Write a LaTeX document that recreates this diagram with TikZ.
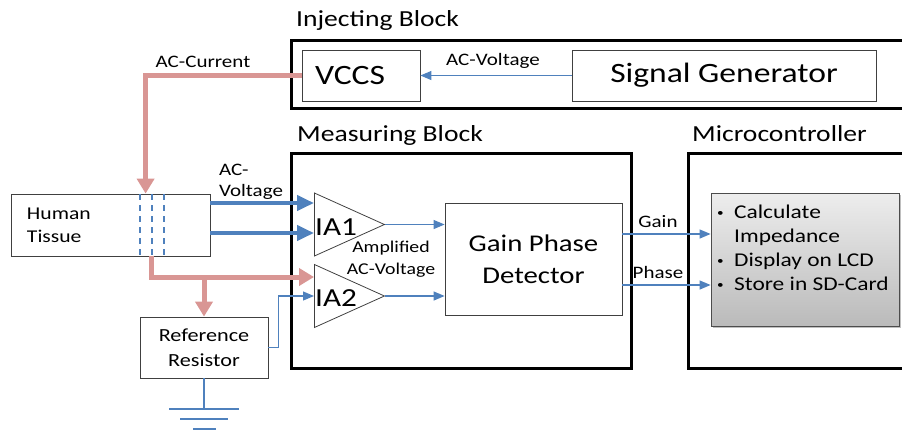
\documentclass[tikz,border=0pt]{standalone}
\usepackage{fontspec}
\setmainfont{Carlito}[FakeStretch=1.2]
\usepackage{tikz}
\usetikzlibrary{arrows.meta,positioning,shapes.geometric,calc,shadows}
\definecolor{lineblue}{RGB}{79,129,189}
\definecolor{linered}{RGB}{217,150,148}

\begin{document}
\begin{tikzpicture}[x=1pt, y=-1pt,
  block/.style={draw, line width=3pt, minimum width=#1, inner sep=0pt},
  box/.style={draw=black!75, line width=0.8pt, fill=white, align=center, inner sep=0pt},
  amp/.style={draw=black!75, line width=0.8pt, isosceles triangle, isosceles triangle stretches,
    shape border rotate=0, minimum width=63pt, minimum height=70pt, inner sep=0pt, anchor=west},
  title/.style={anchor=base west, inner sep=0pt, font=\fontsize{23}{26}\selectfont},
  small/.style={inner sep=0pt, align=center, font=\fontsize{17.5}{21}\selectfont},
  thinblue/.style={draw=lineblue, line width=1.2pt, -{Triangle[length=11pt, width=9pt]}},
  thickblue/.style={draw=lineblue, line width=4pt, -{Triangle[length=17pt, width=15pt]}},
  thickred/.style={draw=linered, line width=5pt}
]
\useasboundingbox (0,0) rectangle (902,432);

% blocks
\node[block=614pt, minimum height=68pt] (inj) at (598,74) {};
\node[block=340pt, minimum height=215pt] (meas) at (461,260.5) {};
\node[block=216pt, minimum height=215pt] (micro) at (796,260.5) {};
\node[title] (injt) at (296,26) {Injecting Block};
\node[title] (meast) at (297,141) {Measuring Block};
\node[title] (microt) at (692,141) {Microcontroller};

% injecting block
\node[box, minimum width=118pt, minimum height=51pt, text width=92pt, inner xsep=13pt, align=left,
  font=\fontsize{28}{32}\selectfont] (vccs) at (361,75.5) {VCCS};
\node[box, minimum width=304pt, minimum height=51pt, font=\fontsize{28}{32}\selectfont] (sig) at (724,75.5) {Signal Generator};
\draw[thinblue] (sig.west) -- (vccs.east);
\node[small] (acv1) at (493,61) {AC-Voltage};

% tissue and reference
\node[box, minimum width=199pt, minimum height=62pt, text width=167pt, align=left,
  font=\fontsize{18}{23}\selectfont] (tissue) at (110.5,225) {Human\\Tissue};
\foreach \xx in {140,152,164}
  \draw[lineblue, line width=1.2pt, dash pattern=on 6pt off 5pt] (\xx,194) -- (\xx,256);
\node[box, minimum width=128pt, minimum height=61pt,
  font=\fontsize{18.5}{25}\selectfont] (refres) at (204,347.5) {Reference\\Resistor};
\coordinate (gnd) at (204,409);
\draw[lineblue, line width=1.2pt] (refres.south) -- (gnd)
  (169,409) -- (239,409) (180,419) -- (228,419) (193,429) -- (216,429);

% amplifiers
\node[amp] (ia1) at (314,224.5) {};
\node[amp] (ia2) at (314,296) {};
\node[inner sep=0pt, font=\fontsize{26}{30}\selectfont] (ia1t) at (336,227) {IA1};
\node[inner sep=0pt, font=\fontsize{26}{30}\selectfont] (ia2t) at (336,298) {IA2};
\node[box, minimum width=177pt, minimum height=112pt,
  font=\fontsize{24}{32}\selectfont] (gpd) at (533.5,259) {Gain Phase\\Detector};

% microcontroller
\node[draw=black!70, line width=0.8pt, top color=black!7, bottom color=black!27, drop shadow,
  minimum width=188pt, minimum height=133pt, inner sep=0pt] (mcu) at (805,259.5)
  {\parbox[c][121pt][t]{176pt}{\vspace*{6pt}\fontsize{19.5}{24}\selectfont
   \raisebox{2pt}{\fontsize{11}{11}\selectfont\textbullet}\ \ Calculate\\
   \phantom{\fontsize{11}{11}\selectfont\textbullet}\ \ Impedance\\
   \raisebox{2pt}{\fontsize{11}{11}\selectfont\textbullet}\ \ Display on LCD\\
   \raisebox{2pt}{\fontsize{11}{11}\selectfont\textbullet}\ \ Store in SD-Card}};

% current path
\draw[thickred, -{Triangle[length=15pt, width=17pt]}] (vccs.west) -| ($(tissue.north west)+(135,0)$);
\node[small] (acc) at (203,62) {AC-Current};
\draw[thickred, -{Triangle[length=15pt, width=17pt]}] ($(tissue.south west)+(141,0)$) |- ($(ia2.west)+(0,-19)$);
\draw[thickred, -{Triangle[length=15pt, width=17pt]}] (refres.north |- 0,277) -- (refres.north);

% voltage pick-up
\draw[thickblue] ($(tissue.east)+(0,-22)$) -- ($(ia1.west)+(0,-21.5)$);
\draw[thickblue] ($(tissue.east)+(0,8)$) -- ($(ia1.west)+(0,8.5)$);
\node[small, align=left] (acv2) at (251,182) {AC-\\Voltage};
\draw[thinblue] (refres.east) -- ++(10,0) |- (ia2.west);

% amplified signals
\draw[thinblue] (ia1.apex) -- (ia1.apex -| gpd.west);
\draw[thinblue] (ia2.apex) -- (ia2.apex -| gpd.west);
\node[small, font=\fontsize{16.5}{22}\selectfont] (amplt) at (391,259) {Amplified\\AC-Voltage};
\coordinate (gainpt) at ($(gpd.east)+(0,-25)$);
\coordinate (phasept) at ($(gpd.east)+(0,26)$);
\draw[thinblue] (gainpt) -- (gainpt -| mcu.west);
\draw[thinblue] (phasept) -- (phasept -| mcu.west);
\node[small] (gaint) at (658,222) {Gain};
\node[small] (phaset) at (658,272) {Phase};
\end{tikzpicture}
\end{document}
